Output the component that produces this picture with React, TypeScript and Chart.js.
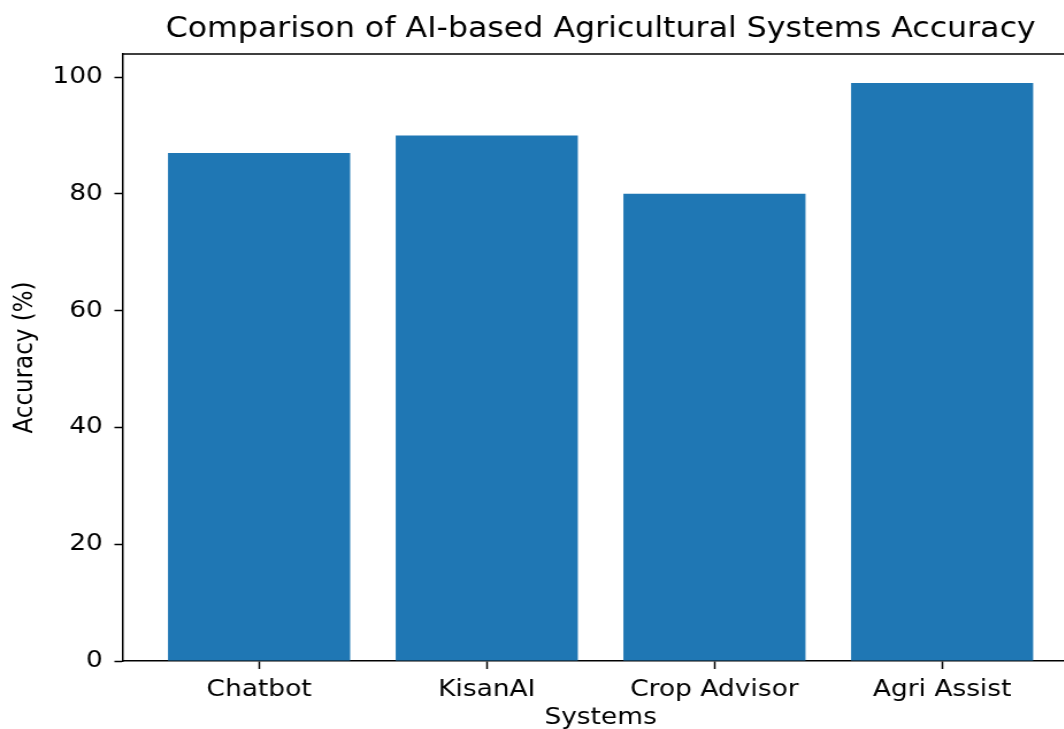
import React, { useEffect, useRef } from "react";
import { Chart, registerables } from "chart.js";

Chart.register(...registerables);

const categories: string[] = ["Chatbot", "KisanAI", "Crop Advisor", "Agri Assist"];
const accuracy: number[] = [87, 90, 80, 99];
const yTicks: number[] = [0, 20, 40, 60, 80, 100];
const titleText = "Comparison of AI-based Agricultural Systems Accuracy";
const xTitle = "Systems";
const yTitle = "Accuracy (%)";

const SX = 1.15;
const FONT = "'DejaVu Sans', sans-serif";

const framePlugin = {
  id: "frame",
  afterDraw(chart: any) {
    const { ctx, chartArea } = chart;
    ctx.save();
    ctx.strokeStyle = "#000";
    ctx.lineWidth = 1.5;
    ctx.beginPath();
    ctx.moveTo(chartArea.left, chartArea.top);
    ctx.lineTo(chartArea.right, chartArea.top);
    ctx.lineTo(chartArea.right, chartArea.bottom);
    ctx.stroke();
    ctx.restore();
  },
};

export default function App() {
  const ref = useRef<HTMLCanvasElement | null>(null);
  useEffect(() => {
    if (!ref.current) return;
    const chart = new Chart(ref.current, {
      type: "bar",
      data: {
        datasets: [
          {
            data: accuracy.map((v, i) => ({ x: i, y: v })),
            backgroundColor: "#1f77b4",
            borderWidth: 0,
            barPercentage: 0.8,
            categoryPercentage: 1,
          },
        ],
      },
      options: {
        animation: false,
        responsive: true,
        maintainAspectRatio: false,
        devicePixelRatio: 1,
        layout: { padding: { left: 0, right: 12, top: 0, bottom: 0 } },
        plugins: {
          legend: { display: false },
          tooltip: { enabled: false },
          title: {
            display: true,
            text: titleText,
            color: "#000",
            fullSize: false,
            font: { family: FONT, size: 27.5, weight: "normal" },
            padding: { top: 13, bottom: 8 },
          },
        },
        scales: {
          x: {
            type: "linear",
            min: -0.6,
            max: 3.6,
            offset: false,
            afterBuildTicks: (s: any) => {
              s.ticks = categories.map((_, i) => ({ value: i }));
            },
            afterFit: (s: any) => {
              s.height = 68;
            },
            ticks: {
              color: "#000",
              font: { family: FONT, size: 23 },
              padding: 7,
              maxRotation: 0,
              autoSkip: false,
              callback: (v: any) => categories[Math.round(Number(v))] ?? "",
            },
            grid: {
              offset: false,
              drawOnChartArea: false,
              drawTicks: true,
              tickLength: 8,
              tickWidth: 1.5,
              tickColor: "#000",
            },
            border: { display: true, color: "#000", width: 1.5 },
            title: {
              display: true,
              text: xTitle,
              color: "#000",
              font: { family: FONT, size: 23 },
              padding: { top: 0, bottom: -3 },
            },
          },
          y: {
            type: "linear",
            min: 0,
            max: 103.95,
            afterBuildTicks: (s: any) => {
              s.ticks = yTicks.map((v) => ({ value: v }));
            },
            afterFit: (s: any) => {
              s.width = 106.5;
            },
            ticks: {
              color: "#000",
              font: { family: FONT, size: 23 },
              padding: 10,
            },
            grid: {
              drawOnChartArea: false,
              drawTicks: true,
              tickLength: 7,
              tickWidth: 1.5,
              tickColor: "#000",
            },
            border: { display: true, color: "#000", width: 1.5 },
            title: {
              display: true,
              text: yTitle,
              color: "#000",
              font: { family: FONT, size: 23 },
              padding: { top: 8, bottom: 0 },
            },
          },
        },
      },
      plugins: [framePlugin],
    } as any);
    return () => chart.destroy();
  }, []);

  return (
    <div
      style={{
        position: "fixed",
        left: 0,
        top: 0,
        width: 1064,
        height: 729,
        overflow: "hidden",
        background: "#fff",
      }}
    >
      <div
        style={{
          width: 950,
          height: 729,
          transform: `scaleX(${SX})`,
          transformOrigin: "0 0",
          position: "relative",
        }}
      >
        <canvas ref={ref} />
      </div>
    </div>
  );
}
